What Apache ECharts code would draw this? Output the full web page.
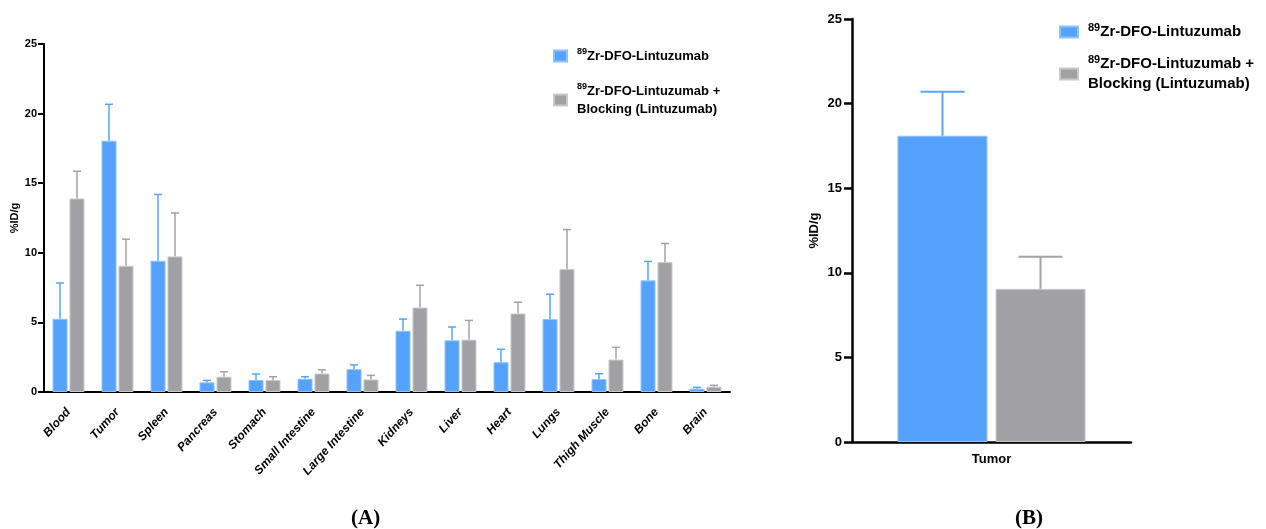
<!DOCTYPE html>
<html>
<head>
<meta charset="utf-8">
<script src="https://cdn.jsdelivr.net/npm/echarts@6/dist/echarts.min.js"></script>
<style>html,body{margin:0;padding:0;background:#fff;}#c{width:1266px;height:529px;}</style>
</head>
<body>
<div id="c"></div>
<script>
// ---- data ----
var categories = ['Blood','Tumor','Spleen','Pancreas','Stomach','Small Intestine','Large Intestine','Kidneys','Liver','Heart','Lungs','Thigh Muscle','Bone','Brain'];
var blueMean  = [5.26,18.05,9.43,0.69,0.86,0.95,1.64,4.40,3.71,2.14,5.24,0.93,8.02,0.24];
var blueUpper = [7.83,20.67,14.19,0.83,1.29,1.10,1.95,5.24,4.67,3.07,7.02,1.31,9.38,0.33];
var grayMean  = [13.90,9.07,9.74,1.10,0.86,1.33,0.90,6.07,3.76,5.64,8.83,2.33,9.33,0.38];
var grayUpper = [15.86,10.98,12.86,1.45,1.10,1.60,1.19,7.67,5.14,6.45,11.67,3.21,10.67,0.48];
var tumorCategories = ['Tumor'];
var tumorBlueMean = [18.1];
var tumorBlueUpper = [20.7];
var tumorGrayMean = [9.05];
var tumorGrayUpper = [10.95];
var nameBlue = 'Lintuzumab';
var nameGray = 'Blocking';

// ---- styles ----
var BLUE = '#55A2FC', BLUE_B = '#8FC2FC', BLUE_E = '#5AA4F8';
var GRAY = '#A1A0A5', GRAY_B = '#C9C9CB', GRAY_E = '#A3A3A6';
var FONT = '"Liberation Sans", Arial, sans-serif';

function errData(mean, upper) {
  return mean.map(function (m, i) { return [i, m, upper[i]]; });
}
function errSeries(name, xi, data, offset, cap, color, lw) {
  return {
    type: 'custom', name: name, xAxisIndex: xi, yAxisIndex: xi, z: 1,
    silent: true,
    encode: { x: 0, y: [1, 2] },
    data: data,
    renderItem: function (params, api) {
      var c0 = api.coord([api.value(0), api.value(1)]);
      var c1 = api.coord([api.value(0), api.value(2)]);
      var x = c0[0] + offset;
      return {
        type: 'group',
        children: [
          { type: 'line', shape: { x1: x, y1: c0[1], x2: x, y2: c1[1] }, style: { stroke: color, lineWidth: lw } },
          { type: 'line', shape: { x1: x - cap, y1: c1[1], x2: x + cap, y2: c1[1] }, style: { stroke: color, lineWidth: lw } }
        ]
      };
    }
  };
}

function legendFormatter(name) {
  if (name === nameBlue) return '{sup|89}{b|Zr-DFO-Lintuzumab}';
  return '{sup|89}{b|Zr-DFO-Lintuzumab +}\n{b|Blocking (Lintuzumab)}';
}
function legendRich(fs, lh, sfs, slh) {
  return {
    b: { fontSize: fs, fontWeight: 'bold', fontFamily: FONT, color: '#000', lineHeight: lh },
    sup: { fontSize: sfs, fontWeight: 'bold', fontFamily: FONT, color: '#000', lineHeight: slh, verticalAlign: 'top' }
  };
}

var chart = echarts.init(document.getElementById('c'), null, { renderer: 'canvas' });
var yAxisBase = function (gi, fs, margin, tickLen, lw, gap, nfs) {
  return {
    type: 'value', gridIndex: gi, min: 0, max: 25, interval: 5,
    name: '%ID/g', nameLocation: 'middle', nameGap: gap, nameMoveOverlap: false,
    nameTextStyle: { fontFamily: FONT, fontWeight: 'bold', fontSize: nfs, color: '#000' },
    axisLine: { show: true, lineStyle: { color: '#000', width: lw } },
    axisTick: { show: true, length: tickLen, lineStyle: { color: '#000', width: lw } },
    axisLabel: { fontFamily: FONT, fontWeight: 'bold', fontSize: fs, color: '#000', margin: margin },
    splitLine: { show: false }
  };
};

var option = {
  animation: false,
  backgroundColor: '#fff',
  grid: [
    { left: 44, top: 44, width: 686, height: 348, containLabel: false, outerBoundsMode: 'none' },
    { left: 852, top: 19, width: 279, height: 423, containLabel: false, outerBoundsMode: 'none' }
  ],
  xAxis: [
    {
      type: 'category', gridIndex: 0, data: categories,
      axisLine: { lineStyle: { color: '#000', width: 2 } },
      axisTick: { alignWithLabel: true, length: 6, lineStyle: { color: '#000', width: 2 } },
      axisLabel: { rotate: 48, interval: 0, margin: 18, fontFamily: FONT, fontWeight: 'bold', fontStyle: 'italic', fontSize: 12, color: '#000' }
    },
    {
      type: 'category', gridIndex: 1, data: tumorCategories,
      axisLine: { lineStyle: { color: '#000', width: 2.5 } },
      axisTick: { alignWithLabel: true, length: 8, lineStyle: { color: '#000', width: 2.5 } },
      axisLabel: { margin: 11, fontFamily: FONT, fontWeight: 'bold', fontSize: 13, color: '#000' }
    }
  ],
  yAxis: [
    yAxisBase(0, 11, 7, 6, 2, 24, 11),
    yAxisBase(1, 13, 10, 8, 2.5, 31, 13)
  ],
  legend: [
    {
      data: [nameBlue, nameGray], orient: 'vertical', left: 553, top: 47, padding: 0,
      itemWidth: 13, itemHeight: 11, itemGap: 17, icon: 'rect',
      formatter: legendFormatter,
      textStyle: { padding: [0, 0, 0, 5], lineHeight: 18, rich: legendRich(13, 18, 9, 8) },
      selectedMode: false
    },
    {
      data: [nameBlue, nameGray], orient: 'vertical', left: 1059, top: 22, padding: 0,
      itemWidth: 18, itemHeight: 11, itemGap: 12, icon: 'rect',
      formatter: legendFormatter,
      textStyle: { padding: [0, 0, 0, 5], lineHeight: 20, rich: legendRich(15, 20, 11, 9) },
      selectedMode: false
    }
  ],
  series: [
    { type: 'bar', name: nameBlue, xAxisIndex: 0, yAxisIndex: 0, data: blueMean, barWidth: 15, barGap: '13%',
      itemStyle: { color: BLUE, borderColor: BLUE_B, borderWidth: 1 }, z: 2 },
    { type: 'bar', name: nameGray, xAxisIndex: 0, yAxisIndex: 0, data: grayMean, barWidth: 15, barGap: '13%',
      itemStyle: { color: GRAY, borderColor: GRAY_B, borderWidth: 1 }, z: 2 },
    errSeries('errBlueA', 0, errData(blueMean, blueUpper), -8.5, 4, BLUE_E, 1.5),
    errSeries('errGrayA', 0, errData(grayMean, grayUpper), 8.5, 4, GRAY_E, 1.5),
    { type: 'bar', name: nameBlue, xAxisIndex: 1, yAxisIndex: 1, data: tumorBlueMean, barWidth: 90, barGap: '9%',
      itemStyle: { color: BLUE, borderColor: BLUE_B, borderWidth: 1 }, z: 2 },
    { type: 'bar', name: nameGray, xAxisIndex: 1, yAxisIndex: 1, data: tumorGrayMean, barWidth: 90, barGap: '9%',
      itemStyle: { color: GRAY, borderColor: GRAY_B, borderWidth: 1 }, z: 2 },
    errSeries('errBlueB', 1, errData(tumorBlueMean, tumorBlueUpper), -49, 22, BLUE_E, 2),
    errSeries('errGrayB', 1, errData(tumorGrayMean, tumorGrayUpper), 49, 22, GRAY_E, 2)
  ],
  graphic: [
    { type: 'text', left: 351, top: 508, style: { text: '(A)', font: 'bold 21px "Liberation Serif", "Times New Roman", serif', fill: '#000' } },
    { type: 'text', left: 1015, top: 508, style: { text: '(B)', font: 'bold 21px "Liberation Serif", "Times New Roman", serif', fill: '#000' } }
  ]
};
chart.setOption(option);
</script>
</body>
</html>
